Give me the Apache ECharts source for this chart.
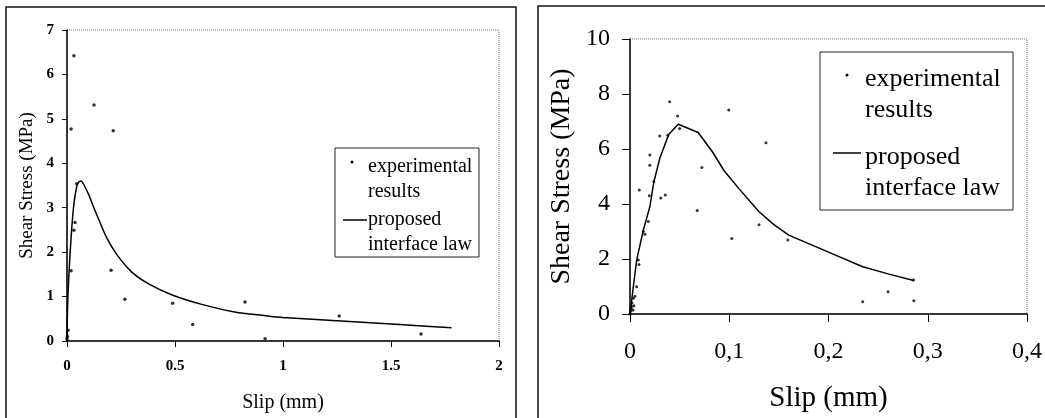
<html>

<head>
  <meta charset="utf-8">
  <title>Shear stress vs slip</title>
  <script src="https://cdn.jsdelivr.net/npm/echarts/dist/echarts.min.js"></script>
</head>

<body style="margin:0;background:#fff">
  <div id="main" style="width: 1045px;height:418px;"></div>
  <script type="text/javascript">
    // left panel - experimental points
    var leftExpX = [0.0, 0.002, 0.005, 0.019, 0.019, 0.032, 0.032, 0.037, 0.045, 0.125, 0.204, 0.214, 0.268, 0.489, 0.582, 0.824, 0.917, 1.26, 1.639];
    var leftExpY = [0.05, 0.1, 0.24, 4.77, 1.58, 6.42, 2.49, 2.67, 3.54, 5.31, 1.59, 4.73, 0.94, 0.85, 0.37, 0.88, 0.05, 0.56, 0.16];
    // left panel - proposed interface law
    var leftLawX = [0, 0.003, 0.01, 0.02, 0.03, 0.04, 0.05, 0.065, 0.08, 0.1, 0.12, 0.15, 0.184, 0.23, 0.3, 0.38, 0.49, 0.62, 0.77, 0.92, 1.0, 1.23, 1.54, 1.78];
    var leftLawY = [0, 0.8, 1.6, 2.4, 3.0, 3.35, 3.55, 3.6, 3.5, 3.3, 3.05, 2.7, 2.32, 1.95, 1.55, 1.28, 1.03, 0.83, 0.66, 0.57, 0.53, 0.46, 0.37, 0.3];

    // right panel - experimental points
    var rightExpX = [0.0, 0.001, 0.003, 0.0007, 0.0017, 0.002, 0.004, 0.0034, 0.005, 0.0067, 0.0084, 0.009, 0.0094, 0.0134, 0.015, 0.0184, 0.0195, 0.020, 0.020, 0.024, 0.030, 0.031, 0.0355, 0.038, 0.040, 0.048, 0.050, 0.0677, 0.0724, 0.0995, 0.1025, 0.13, 0.137, 0.159, 0.2345, 0.260, 0.286, 0.2857];
    var rightExpY = [0.0, 0.2, 0.15, 0.1, 0.27, 0.4, 0.3, 0.57, 0.65, 0.99, 1.96, 1.8, 4.51, 3.0, 2.9, 3.36, 4.3, 5.41, 5.78, 4.82, 6.47, 4.22, 4.33, 6.5, 7.72, 7.2, 6.75, 3.76, 5.33, 7.42, 2.75, 3.25, 6.23, 2.69, 0.45, 0.81, 0.48, 1.24];
    // right panel - proposed interface law
    var rightLawX = [0, 0.0034, 0.0067, 0.0134, 0.020, 0.024, 0.030, 0.039, 0.0486, 0.0687, 0.083, 0.095, 0.11, 0.13, 0.145, 0.16, 0.2, 0.2345, 0.261, 0.2857];
    var rightLawY = [0, 1.0, 1.96, 3.05, 3.9, 4.8, 5.66, 6.53, 6.9, 6.6, 5.9, 5.2, 4.55, 3.72, 3.25, 2.87, 2.25, 1.72, 1.45, 1.22];

    var leftTicksX = ['0', '0.5', '1', '1.5', '2'];
    var rightTicksX = ['0', '0,1', '0,2', '0,3', '0,4'];

    function pairs(xs, ys) {
      var out = [];
      for (var i = 0; i < xs.length; i++) out.push([xs[i], ys[i]]);
      return out;
    }

    var serif = 'Liberation Serif';
    var myChart = echarts.init(document.getElementById('main'));

    function xAxisOpt(gridIndex, max, interval, ticks, fs, weight, margin, gap, tickLen) {
      return {
        type: 'value', gridIndex: gridIndex, min: 0, max: max, interval: interval,
        name: 'Slip (mm)', nameLocation: 'middle', nameGap: gap,
        nameTextStyle: { fontFamily: serif, fontSize: fs + 5, color: '#000' },
        axisLine: { show: true, onZero: false, lineStyle: { color: '#000', width: 1.5 } },
        axisTick: { show: true, inside: false, length: tickLen, lineStyle: { color: '#000' } },
        axisLabel: {
          fontFamily: serif, fontSize: fs, fontWeight: weight, color: '#000', margin: margin,
          formatter: function (v) { return ticks[Math.round(v / interval)]; }
        },
        splitLine: { show: false }
      };
    }

    function yAxisOpt(gridIndex, max, interval, fs, weight, margin, gap, tickLen) {
      return {
        type: 'value', gridIndex: gridIndex, min: 0, max: max, interval: interval,
        name: 'Shear Stress (MPa)', nameLocation: 'middle', nameGap: gap,
        nameTextStyle: { fontFamily: serif, fontSize: fs + 4, color: '#000' },
        axisLine: { show: true, onZero: false, lineStyle: { color: '#000', width: 1.5 } },
        axisTick: { show: true, inside: false, length: tickLen, lineStyle: { color: '#000' } },
        axisLabel: { fontFamily: serif, fontSize: fs, fontWeight: weight, color: '#000', margin: margin },
        splitLine: { show: false }
      };
    }

    function legendBox(x, y, w, h, fs, lines, dot, seg) {
      var els = [{
        type: 'rect', shape: { x: x, y: y, width: w, height: h },
        style: { fill: '#fff', stroke: '#222', lineWidth: 1 }
      }, {
        type: 'circle', shape: { cx: dot[0], cy: dot[1], r: 1.5 }, style: { fill: '#000' }
      }, {
        type: 'line', shape: { x1: seg[0], y1: seg[2], x2: seg[1], y2: seg[2] },
        style: { stroke: '#000', lineWidth: 1.5 }
      }];
      lines.forEach(function (l) {
        els.push({
          type: 'text', x: l[1], y: l[2],
          style: { text: l[0], font: fs + 'px ' + serif, fill: '#000', verticalAlign: 'middle' }
        });
      });
      return els;
    }

    var graphics = [
      { type: 'rect', z: -10, shape: { x: 6, y: 7, width: 510, height: 430 }, style: { fill: 'none', stroke: '#111', lineWidth: 1.5 } },
      { type: 'rect', z: -10, shape: { x: 538, y: 6, width: 520, height: 430 }, style: { fill: 'none', stroke: '#111', lineWidth: 1.5 } }
    ].concat(
      legendBox(335, 148, 144, 109, 20,
        [['experimental', 368, 167], ['results', 368, 192], ['proposed', 368, 220], ['interface law', 368, 245]],
        [352, 162], [343, 367, 220]),
      legendBox(820, 52, 193, 158, 26,
        [['experimental', 865, 79], ['results', 865, 110], ['proposed', 865, 157], ['interface law', 865, 188]],
        [847, 75], [833, 861, 153])
    );

    myChart.setOption({
      animation: false,
      grid: [
        { left: 67, top: 30, width: 432, height: 314, show: true, borderColor: '#777', borderWidth: 1, borderType: 'dotted' },
        { left: 630, top: 39, width: 398, height: 275, show: true, borderColor: '#777', borderWidth: 1, borderType: 'dotted' }
      ],
      xAxis: [
        xAxisOpt(0, 2, 0.5, leftTicksX, 15, 'bold', 18, 52, 6),
        xAxisOpt(1, 0.4, 0.1, rightTicksX, 24, 'normal', 26, 70, 8)
      ],
      yAxis: [
        yAxisOpt(0, 7, 1, 15, 'bold', 13, 30, 5),
        yAxisOpt(1, 10, 2, 24, 'normal', 20, 54, 8)
      ],
      graphic: graphics,
      series: [
        {
          type: 'scatter', name: 'experimental results', xAxisIndex: 0, yAxisIndex: 0,
          symbolSize: 3.5, itemStyle: { color: '#000' }, data: pairs(leftExpX, leftExpY)
        },
        {
          type: 'line', name: 'proposed interface law', xAxisIndex: 0, yAxisIndex: 0,
          smooth: 0.3, showSymbol: false, lineStyle: { color: '#000', width: 1.5 }, data: pairs(leftLawX, leftLawY)
        },
        {
          type: 'scatter', name: 'experimental results', xAxisIndex: 1, yAxisIndex: 1,
          symbolSize: 3, itemStyle: { color: '#000' }, data: pairs(rightExpX, rightExpY)
        },
        {
          type: 'line', name: 'proposed interface law', xAxisIndex: 1, yAxisIndex: 1,
          showSymbol: false, lineStyle: { color: '#000', width: 1.5 }, data: pairs(rightLawX, rightLawY)
        }
      ]
    });
  </script>
</body>

</html>
